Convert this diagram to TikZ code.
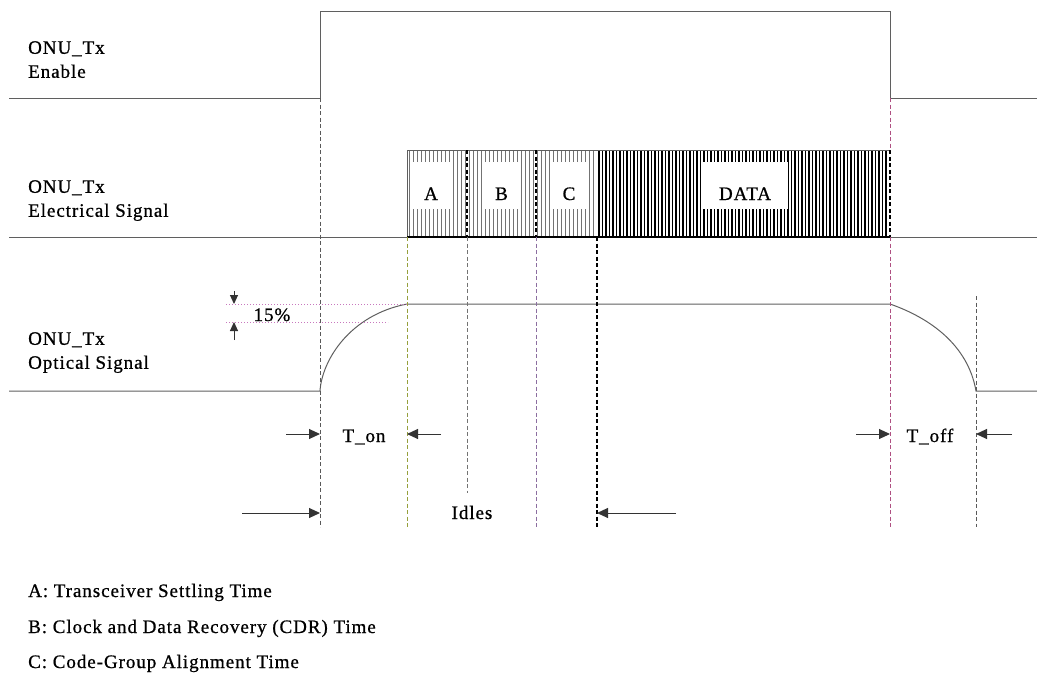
\documentclass[tikz,border=0pt]{standalone}
\usepackage{fontspec}
\setmainfont{Liberation Serif}[LetterSpace=5, FakeBold=0.8]
\usetikzlibrary{arrows.meta}

\definecolor{lineg}{RGB}{95,95,95}
\definecolor{dgreen}{RGB}{150,160,60}
\definecolor{dviolet}{RGB}{140,110,160}
\definecolor{dpink}{RGB}{175,80,130}
\definecolor{dotpink}{RGB}{200,120,190}

\begin{document}
\begin{tikzpicture}[x=1pt, y=-1pt, font=\fontsize{19}{24}\selectfont]

\tikzstyle{every node} = [inner sep=0pt]
\tikzstyle{sig} = [draw=lineg, line width=1pt]
\tikzstyle{guide} = [dash pattern=on 4pt off 2.5pt, line width=1pt]
\tikzstyle{pointer} = [-{Triangle[length=11pt,width=10pt]}, draw=black!80, line width=1pt]
\tikzstyle{small pointer} = [-{Triangle[length=9pt,width=8pt]}, draw=black!80, line width=1pt]
\tikzstyle{field} = [fill=white, text height=38pt, text depth=9pt, anchor=base]
\tikzstyle{lightbar} = [draw=black!55, line width=0.9pt]
\tikzstyle{darkbar} = [draw=black, line width=1.4pt]

\useasboundingbox (0,0) rectangle (1037,675);

% signal names
\node[anchor=north west, align=left] (en) at (28,41) {ONU\_Tx\\Enable};
\node[anchor=north west, align=left] (el) at (28,180) {ONU\_Tx\\Electrical Signal};
\node[anchor=north west, align=left] (op) at (28,332) {ONU\_Tx\\Optical Signal};

% time instants
\coordinate (t0) at (320,98);
\coordinate (t1) at (407,237);
\coordinate (t2) at (467,237);
\coordinate (t3) at (536,237);
\coordinate (t4) at (597,237);
\coordinate (t5) at (890,98);
\coordinate (t6) at (976,296);

% enable
\draw[sig] (9,98) -- (t0) -- (320,11) -- (890,11) -- (t5) -- (1037,98);

% electrical signal
\foreach \x in {409,413,...,595} \draw[lightbar] (\x,151) -- (\x,236);
\foreach \x in {599,602.5,...,888} \draw[darkbar] (\x,151) -- (\x,236);
\node[field, minimum width=38pt] (A) at (431,200) {A};
\node[field, minimum width=33pt] (B) at (501.5,200) {B};
\node[field, minimum width=38pt] (C) at (569,200) {C};
\node[field, minimum width=86pt] (D) at (745,200) {DATA};
\draw[sig] (t1) -- (407,150) -- (890,150);
\draw[sig] (9,237) -- (t1);
\draw[sig] (890,237) -- (1037,237);
\draw[line width=2pt] (t1) -- (890,237);
\draw[guide, line width=1.8pt] (467,150) -- (t2);
\draw[guide, line width=1.8pt] (536,150) -- (t3);
\draw[guide, line width=2pt] (890,150) -- (890,237);

% optical signal
\coordinate (o0) at (320,391);
\coordinate (o1) at (407,304);
\coordinate (o2) at (890,304);
\coordinate (o3) at (976,391);
\draw[sig] (9,391) -- (o0) .. controls (322,360) and (350,315) .. (o1) -- (o2)
  .. controls (930,318) and (968,345) .. (o3) -- (1037,391);

% 15 percent
\coordinate (pa) at (234,304);
\coordinate (pb) at (234,322);
\draw[draw=dotpink, dotted, line width=1pt] (226,304) -- (o1);
\draw[draw=dotpink, dotted, line width=1pt] (226,322) -- (388,322);
\draw[small pointer] ([yshift=13pt]pa) -- (pa);
\draw[small pointer] ([yshift=-18pt]pb) -- (pb);
\node[anchor=base] (pct) at (272,321) {15\%};

% guide lines
\draw[guide, draw=black!65] (t0) -- (320,527);
\draw[guide, draw=dgreen] (t1) -- (407,527);
\draw[guide, draw=black!55] (t2) -- (467,493);
\draw[guide, draw=dviolet] (t3) -- (536,527);
\draw[guide, draw=black, line width=1.8pt] (t4) -- (597,527);
\draw[guide, draw=dpink] (t5) -- (890,150);
\draw[guide, draw=dpink] (890,237) -- (890,527);
\draw[guide, draw=black!65] (t6) -- (976,527);

% timing
\coordinate (on0) at (320,434);
\coordinate (on1) at (407,434);
\coordinate (of0) at (890,434);
\coordinate (of1) at (976,434);
\coordinate (id0) at (320,513);
\coordinate (id1) at (597,513);
\draw[pointer] ([xshift=-34pt]on0) -- (on0);
\draw[pointer] ([xshift=34pt]on1) -- (on1);
\draw[pointer] ([xshift=-34pt]of0) -- (of0);
\draw[pointer] ([xshift=36pt]of1) -- (of1);
\draw[pointer] ([xshift=-78pt]id0) -- (id0);
\draw[pointer] ([xshift=79pt]id1) -- (id1);
\node[anchor=base] (ton) at (364,442) {T\_on};
\node[anchor=base] (toff) at (930,442) {T\_off};
\node[anchor=base] (idl) at (472,519) {Idles};

% legend
\node[anchor=base west] (la) at (28,597) {A: Transceiver Settling Time};
\node[anchor=base west] (lb) at (28,633) {B: Clock and Data Recovery (CDR) Time};
\node[anchor=base west] (lc) at (28,668) {C: Code-Group Alignment Time};
\end{tikzpicture}
\end{document}
